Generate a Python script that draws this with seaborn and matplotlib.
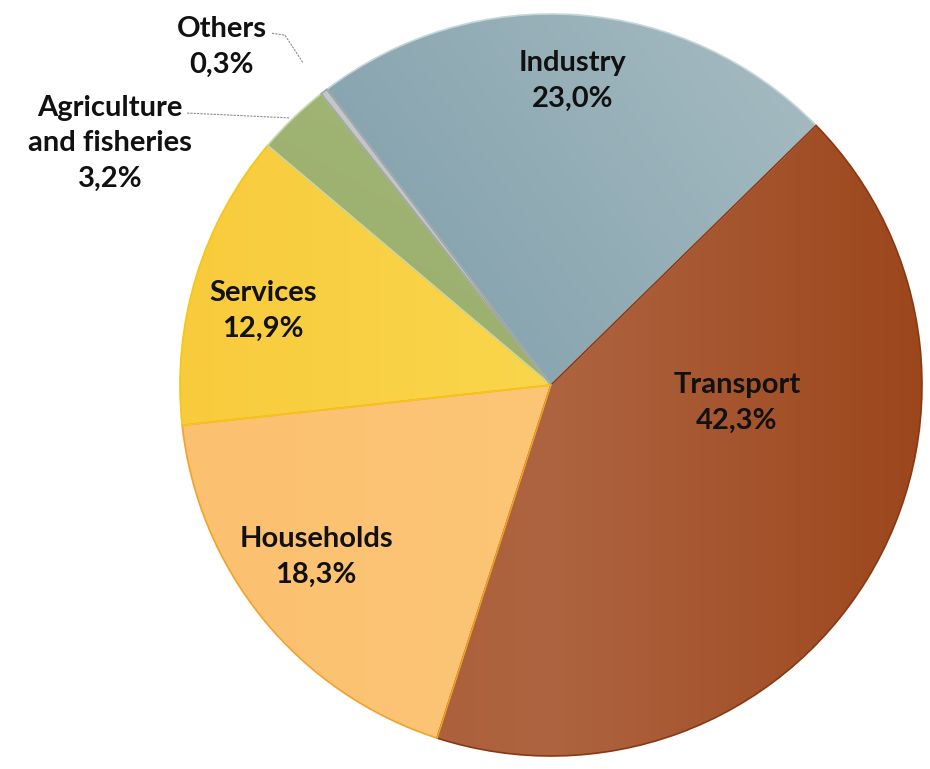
import numpy as np
import matplotlib.pyplot as plt
import seaborn as sns
from matplotlib.colors import LinearSegmentedColormap

# Data
sectors = ["Industry", "Transport", "Households", "Services",
           "Agriculture\nand fisheries", "Others"]
shares = [23.0, 42.3, 18.3, 12.9, 3.2, 0.3]

# Styling (gradient stops, edge colours, gradient direction in degrees)
grad_colors = [
    ["#74939F", "#8AA6B0", "#ADC1C7"],
    ["#A95A34", "#AE6440", "#9C461C"],
    ["#FBC070", "#FCC676", "#FBC271"],
    ["#F8CB3C", "#FAD64C", "#F9D748"],
    ["#91A563", "#9CB06F", "#AABD7E"],
    ["#B4B8BA", "#C0C4C6", "#CDD1D3"],
]
grad_dirs = [35, 0, 0, 0, 60, 60]
edge_colors = ["#C5D4D8", "#8A3812", "#F2A227", "#F5C517", "#C9D7A6", "#9FA4A7"]

# label centres in axis units (pie radius = 1)
label_pos = [(0.059, 0.82), (0.501, -0.048), (-0.633, -0.464),
             (-0.776, 0.199), (-1.188, 0.652), (-0.887, 0.911)]

sns.set_theme(style="white")
plt.rcParams['font.family'] = ['Lato', 'DejaVu Sans']

fig = plt.figure(figsize=(9.30, 7.69), dpi=100)
ax = fig.add_axes([0, 0, 1, 1])

wedges, _ = ax.pie(shares, startangle=127.2, counterclock=False,
                   radius=1.0, center=(0, 0))

for w, cols, d, ec in zip(wedges, grad_colors, grad_dirs, edge_colors):
    cmap = LinearSegmentedColormap.from_list("g", cols)
    n = 300
    xs, ys = np.meshgrid(np.linspace(-1, 1, n), np.linspace(-1, 1, n))
    a = np.deg2rad(d)
    g = xs * np.cos(a) + ys * np.sin(a)
    im = ax.imshow(g, cmap=cmap, extent=(-1.01, 1.01, -1.01, 1.01),
                   origin="lower", zorder=1, interpolation="bilinear")
    im.set_clip_path(w)
    w.set_facecolor("none")
    w.set_edgecolor(ec)
    w.set_linewidth(1.2)
    w.set_zorder(2)

for (x, y), name, val in zip(label_pos, sectors, shares):
    txt = f"{name}\n{val:.1f}%".replace(".", ",")
    ax.text(x, y, txt, ha="center", va="center", fontsize=21,
            fontweight="bold", color="#111111", linespacing=1.45, zorder=5)

# leader lines for the small slices
ax.plot([-0.752, -0.717, -0.668], [0.948, 0.943, 0.868],
        color="#8C8C8C", lw=0.8, ls=(0, (2, 1)), zorder=4)
ax.plot([-0.981, -0.706], [0.733, 0.720],
        color="#8C8C8C", lw=0.8, ls=(0, (2, 1)), zorder=4)

ax.set_xlim(-551 / 371, (930 - 551) / 371)
ax.set_ylim((385 - 769) / 371, 385 / 371)
ax.set_aspect("equal")
ax.axis("off")

fig.savefig("out.png", dpi=100, facecolor="white")
plt.close(fig)
